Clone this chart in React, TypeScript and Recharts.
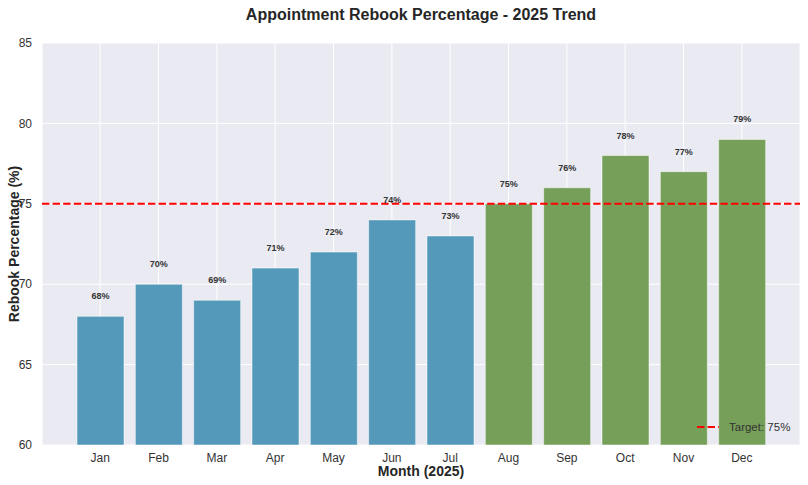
import { BarChart, Bar, XAxis, YAxis, CartesianGrid, ReferenceLine, Cell, LabelList } from 'recharts';

const months = ['Jan', 'Feb', 'Mar', 'Apr', 'May', 'Jun', 'Jul', 'Aug', 'Sep', 'Oct', 'Nov', 'Dec'];
const rebookPct = [68, 70, 69, 71, 72, 74, 73, 75, 76, 78, 77, 79];
const yTicks = [60, 65, 70, 75, 80, 85];
const target = 75;

const chartData = months.map((m, i) => ({ month: m, pct: rebookPct[i] }));

const FONT = '"Liberation Sans", Arial, sans-serif';

const BarLabel = (props: any) => {
    const { x, y, width, value } = props;
    return (
        <text x={x + width / 2} y={y - 20} textAnchor="middle" dominantBaseline="central" fontSize={9} fontWeight="bold" fill="#333" fontFamily={FONT}>
            {`${value}%`}
        </text>
    );
};

const YLabel = (props: any) => {
    const { viewBox } = props;
    const cy = viewBox.y + viewBox.height / 2;
    return (
        <text x={19} y={cy} transform={`rotate(-90, 19, ${cy})`} textAnchor="middle" fontSize={14} fontWeight="bold" fill="#262626" fontFamily={FONT}>
            Rebook Percentage (%)
        </text>
    );
};

export default function App() {
    return (
        <div style={{ position: 'absolute', left: 0, top: 0, width: 808, height: 485, background: '#fff' }}>
            <div style={{ position: 'absolute', top: 6, left: 0, width: 842, textAlign: 'center', fontFamily: FONT, fontSize: 16, fontWeight: 'bold', color: '#262626' }}>
                Appointment Rebook Percentage - 2025 Trend
            </div>
            <BarChart width={808} height={485} data={chartData} margin={{ top: 43, right: 8, left: 0, bottom: 0 }} barCategoryGap={0}>
                <CartesianGrid stroke="#ffffff" strokeWidth={1} fill="#EAEAF2" fillOpacity={1} />
                <XAxis
                    dataKey="month"
                    height={40}
                    padding={{ left: 29, right: 29 }}
                    tickLine={false}
                    axisLine={false}
                    tick={{ fontSize: 12, fill: '#333', fontFamily: FONT }}
                    tickMargin={2}
                    label={{ value: 'Month (2025)', position: 'insideBottom', offset: 9, fontSize: 14, fontWeight: 'bold', fill: '#262626', fontFamily: FONT }}
                />
                <YAxis
                    width={42}
                    domain={[60, 85]}
                    ticks={yTicks}
                    allowDataOverflow
                    tickLine={false}
                    axisLine={false}
                    tick={{ fontSize: 12, fill: '#333', fontFamily: FONT }}
                    tickMargin={4}
                    label={<YLabel />}
                />
                <Bar dataKey="pct" barSize={47} stroke="#ffffff" strokeOpacity={0.5} strokeWidth={1} isAnimationActive={false}>
                    {chartData.map((d) => (
                        <Cell key={d.month} fill={d.pct >= target ? '#76A05A' : '#5499B9'} />
                    ))}
                    <LabelList dataKey="pct" content={<BarLabel />} />
                </Bar>
                <ReferenceLine y={target} stroke="#ff0000" strokeWidth={2} strokeDasharray="7.4 3.2" />
            </BarChart>
            <div style={{ position: 'absolute', left: 697, top: 421, display: 'flex', alignItems: 'center', fontFamily: FONT, fontSize: 11.5, color: '#333' }}>
                <svg width={22} height={8} style={{ marginRight: 10 }}>
                    <line x1={0} y1={4} x2={22} y2={4} stroke="#ff0000" strokeWidth={2} strokeDasharray="7.4 3.2" />
                </svg>
                <span>Target: 75%</span>
            </div>
        </div>
    );
}
